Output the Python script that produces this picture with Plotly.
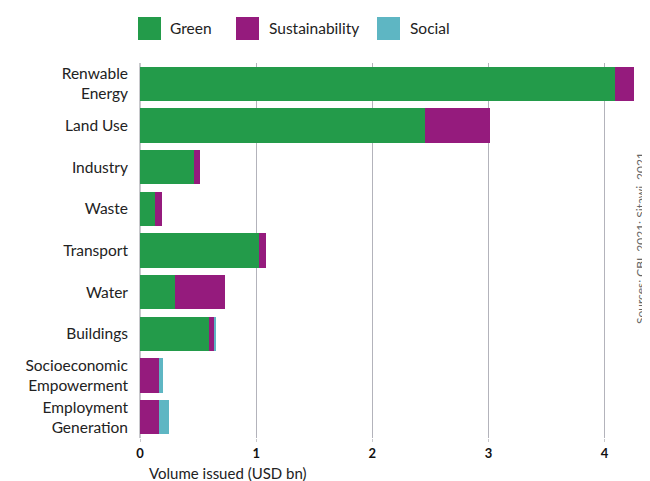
import plotly.graph_objects as go

categories = ["Renwable<br>Energy", "Land Use", "Industry", "Waste", "Transport",
              "Water", "Buildings", "Socioeconomic<br>Empowerment", "Employment<br>Generation"]
green = [4.09, 2.45, 0.465, 0.13, 1.025, 0.30, 0.595, 0, 0]
sustainability = [0.16, 0.56, 0.05, 0.06, 0.06, 0.43, 0.05, 0.165, 0.165]
social = [0, 0, 0, 0, 0, 0, 0.01, 0.035, 0.085]
series_names = ["Green", "Sustainability", "Social"]
colors = ["#239B4A", "#951B7D", "#5EB6C3"]
x_ticks = [0, 1, 2, 3, 4]

FONT = "Lato"
O = 8  # page body margin offset
fig = go.Figure()
for name, vals, col in zip(series_names, [green, sustainability, social], colors):
    fig.add_trace(go.Bar(y=categories, x=vals, name=name, orientation="h",
                         marker=dict(color=col, line=dict(width=0)), showlegend=False))

W, H = 650 - O, 481 - O
L, R, T, B = 140 - O, 14, 63 - O, 43
pw, ph = W - L - R, H - T - B


def px(xp):
    return (xp - O - L) / pw


def py(yp):
    return (T + ph - (yp - O)) / ph


fig.update_layout(
    width=W, height=H, barmode="stack", bargap=0.18,
    margin=dict(l=L, r=R, t=T, b=B),
    plot_bgcolor="white", paper_bgcolor="white",
    font=dict(family=FONT, size=15, color="#222222"),
    xaxis=dict(range=[0, 4.27], tickvals=x_ticks, showgrid=True, gridcolor="#b3b3bb",
               gridwidth=1.3, zeroline=True, zerolinecolor="#c8c8cc", zerolinewidth=2,
               ticks="outside", ticklen=3, tickcolor="#c8c8cc",
               tickfont=dict(family=FONT, size=13, color="#111111", weight="bold")),
    yaxis=dict(autorange="reversed", showgrid=False, ticklabelstandoff=11,
               tickfont=dict(family=FONT, size=15.5, color="#222222")),
)

# x-axis title
fig.add_annotation(text="Volume issued (USD bn)", xref="paper", yref="paper",
                   x=px(147), y=py(473), xanchor="left", yanchor="middle",
                   showarrow=False, font=dict(family=FONT, size=15, color="#222222"))

# custom legend
legend_items = [(138, 168), (236, 267), (377, 408)]
for (sx, tx), name, col in zip(legend_items, series_names, colors):
    fig.add_shape(type="rect", xref="paper", yref="paper",
                  x0=px(sx), x1=px(sx + 23), y0=py(40), y1=py(17),
                  fillcolor=col, line=dict(width=0))
    fig.add_annotation(text=name, xref="paper", yref="paper",
                       x=px(tx), y=py(28.5), xanchor="left", yanchor="middle",
                       showarrow=False, font=dict(family=FONT, size=15.5, color="#222222"))

# source note
fig.add_annotation(text="Sources: CBI, 2021; Sitawi, 2021", xref="paper", yref="paper",
                   x=px(640), y=py(238), xanchor="center", yanchor="middle",
                   textangle=-90, showarrow=False,
                   font=dict(family=FONT, size=12, color="#666666"))

fig.write_html("out.html")
